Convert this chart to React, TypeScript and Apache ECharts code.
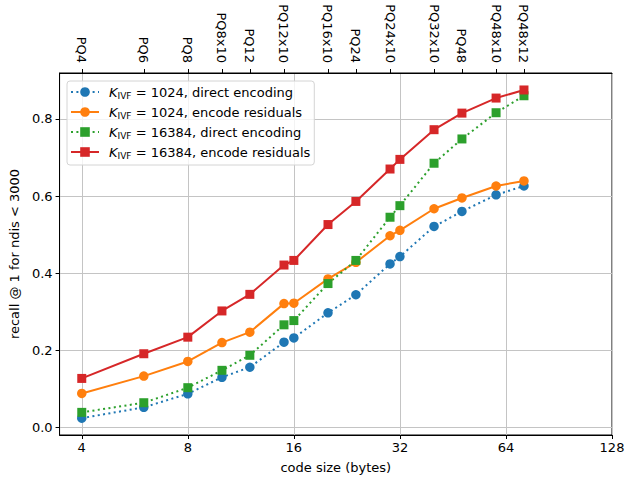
import React, { useEffect, useRef } from "react";
import * as echarts from "echarts";

// Code sizes (bytes) at which each configuration was measured
const codeSizes = [4, 6, 8, 10, 12, 15, 16, 20, 24, 30, 32, 40, 48, 60, 72];

// Bottom axis ticks
const xTicks = [4, 8, 16, 32, 64, 128];
// Y ticks
const yTicks = [0, 0.2, 0.4, 0.6, 0.8];

// Top axis: PQ configuration names at their code sizes
const topTickValues = [4, 6, 8, 10, 12, 15, 20, 24, 30, 40, 48, 60, 72];
const topTickLabels = [
  "PQ4", "PQ6", "PQ8", "PQ8x10", "PQ12", "PQ12x10", "PQ16x10",
  "PQ24", "PQ24x10", "PQ32x10", "PQ48", "PQ48x10", "PQ48x12",
];

// Series values (recall @ 1 for ndis < 3000)
const k1024Direct = [0.024, 0.052, 0.087, 0.130, 0.156, 0.221, 0.232, 0.297, 0.344, 0.424, 0.443, 0.521, 0.560, 0.603, 0.626];
const k1024Residuals = [0.088, 0.133, 0.171, 0.220, 0.247, 0.321, 0.322, 0.385, 0.428, 0.497, 0.511, 0.567, 0.595, 0.626, 0.639];
const k16384Direct = [0.039, 0.064, 0.103, 0.148, 0.187, 0.266, 0.277, 0.373, 0.433, 0.545, 0.575, 0.685, 0.748, 0.816, 0.860];
const k16384Residuals = [0.127, 0.191, 0.234, 0.302, 0.345, 0.421, 0.433, 0.526, 0.586, 0.670, 0.695, 0.772, 0.815, 0.854, 0.875];

const seriesK = ["1024", "1024", "16384", "16384"];
const seriesMethod = ["direct encoding", "encode residuals", "direct encoding", "encode residuals"];
const seriesValues = [k1024Direct, k1024Residuals, k16384Direct, k16384Residuals];
const seriesColors = ["#1f77b4", "#ff7f0e", "#2ca02c", "#d62728"];
const seriesSymbols = ["circle", "circle", "rect", "rect"];
const seriesDotted = [true, false, true, false];

const FONT = "DejaVu Sans";

export default function App() {
  const ref = useRef<HTMLDivElement>(null);

  useEffect(() => {
    if (!ref.current) return;
    const chart = echarts.init(ref.current, undefined, { renderer: "svg" });

    const names = seriesK.map((k, i) => `K_IVF = ${k}, ${seriesMethod[i]}`);

    const series = seriesValues.map((vals, i) => ({
      type: "line",
      name: names[i],
      xAxisIndex: 0,
      yAxisIndex: 0,
      data: codeSizes.map((x, j) => [x, vals[j]]),
      symbol: seriesSymbols[i],
      symbolSize: seriesSymbols[i] === "circle" ? 9.5 : 9,
      itemStyle: { color: seriesColors[i] },
      lineStyle: {
        color: seriesColors[i],
        width: 2,
        type: seriesDotted[i] ? [2, 3.4] : "solid",
        cap: "butt",
      },
      emphasis: { disabled: true },
      clip: false,
    }));

    const option: any = {
      animation: false,
      textStyle: { fontFamily: FONT },
      grid: {
        left: 59,
        right: 22,
        top: 73,
        bottom: 39,
        show: true,
        borderColor: "#000",
        borderWidth: 1,
        backgroundColor: "transparent",
      },
      legend: {
        orient: "vertical",
        left: 67,
        top: 81,
        data: names,
        itemWidth: 28,
        itemHeight: 12,
        itemGap: 4,
        padding: [3, 4, 5, 3],
        borderColor: "#d4d4d4",
        borderWidth: 1,
        borderRadius: 3,
        backgroundColor: "rgba(255,255,255,0.8)",
        selectedMode: false,
        formatter: (name: string) => {
          const rest = name.replace("K_IVF", "");
          return `{k|K}{sub|IVF}{t|${rest}}`;
        },
        textStyle: {
          fontFamily: FONT,
          fontSize: 13,
          color: "#000",
          lineHeight: 16,
          rich: {
            k: { fontFamily: FONT, fontSize: 13, fontStyle: "italic", color: "#000", lineHeight: 16, padding: [0, 0, 0, 5] },
            sub: { fontFamily: FONT, fontSize: 9, color: "#000", verticalAlign: "bottom", lineHeight: 16 },
            t: { fontFamily: FONT, fontSize: 13, color: "#000", lineHeight: 16 },
          },
        },
      },
      xAxis: [
        {
          type: "log",
          logBase: 2,
          min: 3.46,
          max: 128,
          position: "bottom",
          name: "code size (bytes)",
          nameLocation: "middle",
          nameGap: 26,
          nameTextStyle: { fontFamily: FONT, fontSize: 13, color: "#000" },
          axisLine: { show: true, onZero: false, lineStyle: { color: "#000", width: 1 } },
          axisTick: { show: true, length: 4, customValues: xTicks, lineStyle: { color: "#000" } },
          axisLabel: {
            fontFamily: FONT,
            fontSize: 13,
            color: "#000",
            margin: 6,
            showMinLabel: false,
            formatter: (v: number) => String(Math.round(v)),
          },
          splitLine: { show: true, lineStyle: { color: "#c4c4c4", width: 1 } },
          minorTick: { show: false },
        },
        {
          type: "log",
          logBase: 2,
          min: 3.46,
          max: 128,
          position: "top",
          axisLine: { show: true, onZero: false, lineStyle: { color: "#000", width: 1 } },
          axisTick: { show: true, length: 4, customValues: topTickValues, lineStyle: { color: "#000" } },
          axisLabel: {
            customValues: topTickValues,
            rotate: 90,
            fontFamily: FONT,
            fontSize: 13,
            color: "#000",
            margin: 10,
            formatter: (v: number) => {
              const idx = topTickValues.findIndex((t) => Math.abs(t - v) < 0.01);
              return idx >= 0 ? topTickLabels[idx] : "";
            },
          },
          splitLine: { show: false },
        },
      ],
      yAxis: [
        {
          type: "value",
          min: -0.0197,
          max: 0.919,
          splitNumber: 5,
          name: "recall @ 1 for ndis < 3000",
          nameLocation: "middle",
          nameGap: 27,
          nameTextStyle: { fontFamily: FONT, fontSize: 13, color: "#000" },
          axisLine: { show: true, onZero: false, lineStyle: { color: "#000", width: 1 } },
          axisTick: { show: true, length: 4, customValues: yTicks, lineStyle: { color: "#000" } },
          axisLabel: {
            fontFamily: FONT,
            fontSize: 13,
            color: "#000",
            margin: 7,
            showMinLabel: false,
            showMaxLabel: false,
            formatter: (v: number) => v.toFixed(1),
          },
          splitLine: { show: true, lineStyle: { color: "#c4c4c4", width: 1 } },
        },
      ],
      series,
    };

    chart.setOption(option);
    return () => chart.dispose();
  }, []);

  return (
    <div
      ref={ref}
      style={{ position: "absolute", left: 0, top: 0, width: 634, height: 479, background: "#fff" }}
    />
  );
}
